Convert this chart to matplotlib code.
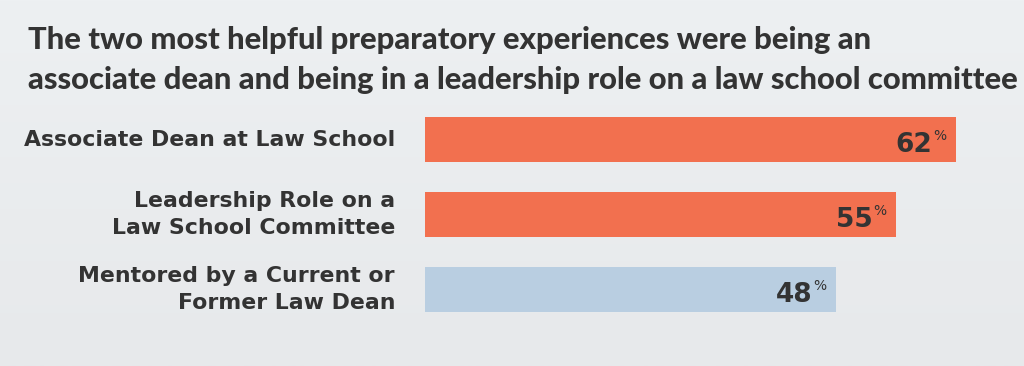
import numpy as np
import matplotlib
matplotlib.use('Agg')
import matplotlib.pyplot as plt
from matplotlib.colors import LinearSegmentedColormap

# data
categories = ["Associate Dean at Law School",
              "Leadership Role on a\nLaw School Committee",
              "Mentored by a Current or\nFormer Law Dean"]
values = [62, 55, 48]
bar_colors = ["#F2704F", "#F2704F", "#B9CEE1"]
title = ("The two most helpful preparatory experiences were being an\n"
         "associate dean and being in a leadership role on a law school committee")

TEXT = "#333333"
W, H = 1024, 366

fig = plt.figure(figsize=(W / 100, H / 100), dpi=100)

# soft grey background
bg = fig.add_axes([0, 0, 1, 1], zorder=-10)
grad = np.linspace(0, 1, 256).reshape(-1, 1)
bg_cmap = LinearSegmentedColormap.from_list("bg", ["#edf0f2", "#e7e9eb"])
bg.imshow(grad, aspect='auto', cmap=bg_cmap, extent=[0, 1, 0, 1])
bg.axis('off')

# title
fig.text(28 / W, 1 - 26 / H, title, ha='left', va='top',
         fontsize=22.3, fontweight='black', family='Lato', color=TEXT,
         linespacing=1.5)

# bars
ax = fig.add_axes([425 / W, 1 - 327 / H, (W - 425) / W, 225 / H])
ax.patch.set_alpha(0)
y = np.arange(len(values))
ax.barh(y, values, height=0.6, color=bar_colors)
ax.set_xlim(0, 70)
ax.set_ylim(len(values) - 0.5, -0.5)
ax.axis('off')

for yi, v, label in zip(y, values, categories):
    ax.annotate(label, xy=(0, yi), xytext=(-30, 0), textcoords='offset pixels',
                ha='right', va='center', fontsize=15.8, fontweight='bold',
                family='DejaVu Sans', color=TEXT, linespacing=1.42)
    ax.annotate(str(v), xy=(v, yi), xytext=(-23, -12), textcoords='offset pixels',
                ha='right', va='baseline', fontsize=19, fontweight='bold',
                family='DejaVu Sans', color=TEXT)
    ax.annotate('%', xy=(v, yi), xytext=(-22, 11), textcoords='offset pixels',
                ha='left', va='top', fontsize=10, family='DejaVu Sans', color=TEXT)

fig.savefig('out.png', dpi=100)
